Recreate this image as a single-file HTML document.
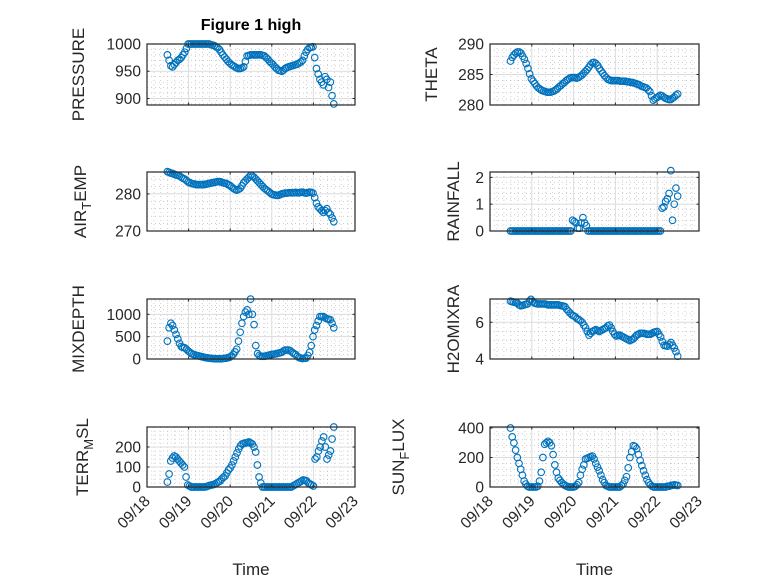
<!DOCTYPE html>
<html><head><meta charset="utf-8"><style>
html,body{margin:0;padding:0;background:#fff;}
svg{display:block;font-family:"Liberation Sans","DejaVu Sans",sans-serif;}
</style></head><body>
<svg id="fig" width="778" height="583" viewBox="0 0 778 583" xmlns="http://www.w3.org/2000/svg">
<rect width="778" height="583" fill="#fff"/>
<text x="251" y="30" text-anchor="middle" font-size="16" font-weight="bold" fill="#000">Figure 1 high</text>
</svg>
<script>
// time span of the records, in days after 09/18 00:00 (about hourly samples)
const tStart = 0.49;
const tEnd = 4.49;
const xTickLabels = ["09/18","09/19","09/20","09/21","09/22","09/23"];

const pressure = [980,970,960,958,962,966,970,972,975,980,985,992,1000,1000,1000,1000,1000,1000,1000,1000,1000,1000,1000,1000,1000,999,998,997,995,993,990,985,980,976,972,968,965,962,960,958,956,955,955,956,958,968,978,979,980,980,980,980,980,980,980,979,978,975,972,968,965,962,958,955,952,951,950,952,955,957,958,959,960,961,962,963,965,967,970,978,985,990,993,994,995,975,955,945,935,930,925,940,935,920,930,905,890];
const airTemp = [286,285.8,285.6,285.5,285.3,285.1,285,284.8,284.5,284.2,284,283.6,283.2,283,282.8,282.7,282.6,282.5,282.5,282.5,282.5,282.5,282.6,282.7,282.8,282.9,283,283.1,283.2,283.3,283.3,283.2,283,282.9,282.8,282.5,282.3,281.9,281.5,281.2,281,281.2,281.5,282.2,283,283.5,284,284.5,285,284.8,284.5,284,283.5,283,282.5,282,281.5,281.1,280.8,280.4,280,279.8,279.7,279.6,279.6,279.8,280,280.1,280.2,280.2,280.3,280.3,280.3,280.3,280.4,280.3,280.3,280.4,280.5,280.3,280.2,280.3,280.5,280.4,280.2,279,277.5,276.5,276,275.5,275,275.5,276,275,274.5,273.5,272.5];
const mixDepth = [400,700,800,750,650,550,450,350,280,260,250,220,180,150,120,100,90,80,70,60,50,40,30,25,20,15,10,8,5,5,5,5,10,15,20,30,40,70,100,160,220,400,600,800,950,1050,1100,1000,1340,1000,770,300,120,80,60,60,60,70,80,90,100,105,110,120,130,140,150,180,200,200,200,180,150,120,100,60,30,20,10,15,20,80,150,300,500,650,750,850,950,950,950,920,900,890,880,800,700];
const terrMsl = [25,65,130,145,155,150,140,130,120,110,100,50,10,5,0,0,0,0,0,0,0,0,0,2,5,8,10,12,15,20,25,30,40,48,55,70,85,95,110,130,150,170,190,205,215,218,220,222,225,220,215,200,175,110,50,20,0,0,0,0,0,0,0,0,0,0,0,0,0,0,0,0,0,0,5,10,15,20,25,30,35,33,30,20,15,10,5,140,150,180,200,230,250,200,140,160,180,240,300];
const theta = [287.2,287.8,288.2,288.5,288.7,288.7,288.5,288,287.5,286.8,286,285.1,284.3,283.9,283.5,283.1,282.8,282.6,282.4,282.3,282.2,282.1,282.1,282.1,282.2,282.3,282.5,282.7,283,283.2,283.5,283.7,284,284.2,284.4,284.5,284.5,284.5,284.4,284.5,284.7,284.9,285.2,285.5,285.8,286.2,286.6,286.9,287,286.8,286.5,286,285.6,285.2,284.8,284.5,284.2,284.1,284,284,284,284,284,283.9,283.9,283.9,283.9,283.8,283.8,283.7,283.7,283.6,283.5,283.4,283.3,283.1,283,282.9,282.8,282.5,282.2,281.5,280.8,281,281.2,281.4,281.6,281.5,281.3,281.1,281,280.9,280.9,281.1,281.3,281.6,281.8];
const rainfall = [0,0,0,0,0,0,0,0,0,0,0,0,0,0,0,0,0,0,0,0,0,0,0,0,0,0,0,0,0,0,0,0,0,0,0,0,0.4,0.35,0.3,0.1,0.1,0.3,0.5,0.3,0.2,0,0,0,0,0,0,0,0,0,0,0,0,0,0,0,0,0,0,0,0,0,0,0,0,0,0,0,0,0,0,0,0,0,0,0,0,0,0,0,0,0,0,0,0.85,0.9,1.1,1.2,1.4,2.25,0.4,1.0,1.6,1.3];
const h2oMixRa = [7.15,7.12,7.1,7.08,7.05,6.95,6.9,6.92,6.95,6.98,7.0,7.15,7.25,7.15,7.05,7.02,7.0,7.0,7.0,7.0,7.0,6.98,6.95,6.95,6.95,6.95,6.95,6.95,6.95,6.92,6.9,6.88,6.85,6.7,6.6,6.5,6.4,6.35,6.3,6.2,6.15,6.08,6.0,5.85,5.7,5.5,5.3,5.4,5.5,5.55,5.6,5.55,5.5,5.55,5.6,5.65,5.7,5.8,5.85,5.7,5.5,5.35,5.25,5.28,5.3,5.25,5.2,5.15,5.1,5.05,5.0,5.05,5.1,5.2,5.3,5.35,5.4,5.4,5.4,5.38,5.35,5.35,5.35,5.4,5.45,5.48,5.5,5.35,5.2,4.95,4.75,4.72,4.7,4.8,4.9,4.75,4.6,4.4,4.15];
const sunFlux = [400,340,300,250,200,160,120,80,40,20,5,0,0,0,0,0,5,40,100,200,290,300,310,300,280,220,150,100,60,45,30,20,10,5,0,0,0,0,5,15,30,80,120,150,190,195,200,205,210,190,160,135,110,80,50,30,10,5,0,0,0,0,0,0,0,10,20,45,70,130,200,240,280,275,260,220,180,145,110,80,50,30,15,5,0,0,0,0,0,0,0,0,5,5,10,12,15,12,10];

const pressureTicks = [900,950,1000];
const airTempTicks = [270,280];
const mixDepthTicks = [0,500,1000];
const terrMslTicks = [0,100,200];
const thetaTicks = [280,285,290];
const rainfallTicks = [0,1,2];
const h2oTicks = [4,6];
const sunTicks = [0,200,400];

const NS = "http://www.w3.org/2000/svg";
const svg = document.getElementById("fig");
function mk(tag, attrs, parent){
  const e = document.createElementNS(NS, tag);
  for (const k in attrs) e.setAttribute(k, attrs[k]);
  (parent||svg).appendChild(e);
  return e;
}

const panels = [
  {name:"pressure", data:pressure, ticks:pressureTicks, ymin:888, ymax:1000, minor:10, x0:147, x1:355, y0:44, y1:105, label:["PRESSURE"], lx:78, xt:false},
  {name:"theta", data:theta, ticks:thetaTicks, ymin:280, ymax:290, minor:1, x0:490, x1:699, y0:44, y1:105, label:["THETA"], lx:431, xt:false},
  {name:"air-temp", data:airTemp, ticks:airTempTicks, ymin:270, ymax:285.9, minor:2, x0:147, x1:355, y0:172, y1:231, label:["AIR","T","EMP"], lx:80, xt:false},
  {name:"rainfall", data:rainfall, ticks:rainfallTicks, ymin:0, ymax:2.2, minor:0.2, x0:490, x1:699, y0:172, y1:231, label:["RAINFALL"], lx:453, xt:false},
  {name:"mixdepth", data:mixDepth, ticks:mixDepthTicks, ymin:0, ymax:1343, minor:100, x0:147, x1:355, y0:299, y1:359, label:["MIXDEPTH"], lx:78, xt:false},
  {name:"h2omixra", data:h2oMixRa, ticks:h2oTicks, ymin:4, ymax:7.27, minor:0.5, x0:490, x1:699, y0:299, y1:359, label:["H2OMIXRA"], lx:453, xt:false},
  {name:"terr-msl", data:terrMsl, ticks:terrMslTicks, ymin:0, ymax:300, minor:20, x0:147, x1:355, y0:427, y1:487, label:["TERR","M","SL"], lx:82, xt:true},
  {name:"sun-flux", data:sunFlux, ticks:sunTicks, ymin:0, ymax:407, minor:40, x0:490, x1:699, y0:427, y1:487, label:["SUN","F","LUX"], lx:398, xt:true}
];

panels.forEach(p => {
  const g = mk("g", {});
  
  
  const xs = t => p.x0 + (p.x1 - p.x0) * t / 5;
  const ys = v => p.y1 - (p.y1 - p.y0) * (v - p.ymin) / (p.ymax - p.ymin);
  for (let k = 1; k < 30; k++) {
    if (k % 6 === 0) continue;
    const x = xs(k/6);
    mk("line", {x1:x, x2:x, y1:p.y0, y2:p.y1, stroke:"#b0b0b0", "stroke-width":0.6, "stroke-dasharray":"1 3"}, g);
  }
  for (let v = Math.ceil(p.ymin/p.minor)*p.minor; v <= p.ymax; v += p.minor) {
    const y = ys(v);
    if (p.ticks.some(t => Math.abs(t - v) < 1e-6)) continue;
    mk("line", {x1:p.x0, x2:p.x1, y1:y, y2:y, stroke:"#b0b0b0", "stroke-width":0.6, "stroke-dasharray":"1 3"}, g);
  }
  for (let d = 1; d < 5; d++) {
    const x = xs(d);
    mk("line", {x1:x, x2:x, y1:p.y0, y2:p.y1, stroke:"#dcdcdc", "stroke-width":1}, g);
  }
  p.ticks.forEach(v => {
    const y = ys(v);
    mk("line", {x1:p.x0, x2:p.x1, y1:y, y2:y, stroke:"#dcdcdc", "stroke-width":1}, g);
  });
  const n = p.data.length;
  p.data.forEach((v, i) => {
    const t = tStart + (tEnd - tStart) * i / (n - 1);
    const c = mk("circle", {cx:xs(t), cy:ys(v), r:3.3, fill:"none", stroke:"#0072BD", "stroke-width":1.1}, g);
    
    
  });
  mk("rect", {x:p.x0, y:p.y0, width:p.x1-p.x0, height:p.y1-p.y0, fill:"none", stroke:"#262626", "stroke-width":1.2}, g);
  for (let d = 0; d <= 5; d++) {
    const x = xs(d);
    mk("line", {x1:x, x2:x, y1:p.y1, y2:p.y1-2.5, stroke:"#262626"}, g);
    mk("line", {x1:x, x2:x, y1:p.y0, y2:p.y0+2.5, stroke:"#262626"}, g);
    if (p.xt) {
      const ax = x + 4, ay = p.y1 + 15;
      const tl = mk("text", {x:ax, y:ay, "text-anchor":"end", "font-size":15.5, fill:"#262626", transform:`rotate(-45 ${ax} ${ay})`}, g);
      tl.textContent = xTickLabels[d];
      
      
    }
  }
  p.ticks.forEach(v => {
    const y = ys(v);
    mk("line", {x1:p.x0, x2:p.x0+2.5, y1:y, y2:y, stroke:"#262626"}, g);
    mk("line", {x1:p.x1, x2:p.x1-2.5, y1:y, y2:y, stroke:"#262626"}, g);
    const tl = mk("text", {x:p.x0-6, y:y+5.5, "text-anchor":"end", "font-size":15.5, fill:"#262626"}, g);
    tl.textContent = String(v);
    
    
  });
  const cy = (p.y0 + p.y1) / 2;
  const lb = mk("text", {x:p.lx, y:cy, "text-anchor":"middle", "font-size":17, fill:"#262626", transform:`rotate(-90 ${p.lx} ${cy})`, dy:"6"}, g);
  
  
  if (p.label.length === 1) lb.textContent = p.label[0];
  else {
    const a = mk("tspan", {}, lb); a.textContent = p.label[0];
    const b = mk("tspan", {dy:"5", "font-size":13}, lb); b.textContent = p.label[1];
    const c = mk("tspan", {dy:"-5"}, lb); c.textContent = p.label[2];
  }
  if (p.xt) {
    const xl = mk("text", {x:(p.x0+p.x1)/2, y:575, "text-anchor":"middle", "font-size":17, fill:"#262626"}, g);
    xl.textContent = "Time";
    
    
  }
});
</script>
</body></html>
